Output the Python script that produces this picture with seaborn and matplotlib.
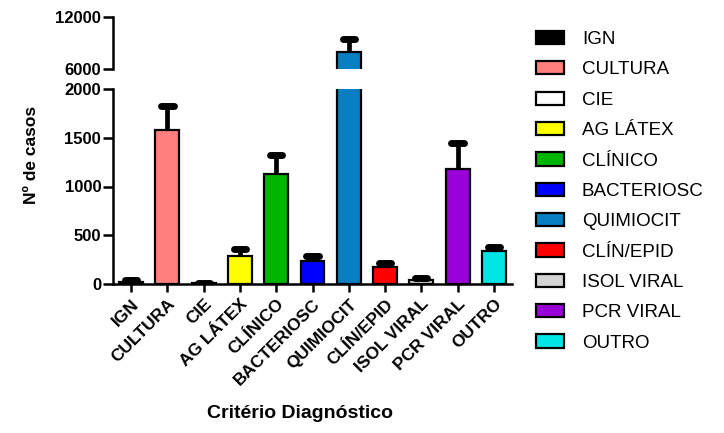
import matplotlib
matplotlib.use("Agg")
import matplotlib.pyplot as plt
from matplotlib.patches import Patch
import seaborn as sns
import pandas as pd

# Diagnostic criteria, mean case counts and upper error values
categories = ["IGN", "CULTURA", "CIE", "AG LÁTEX", "CLÍNICO", "BACTERIOSC",
              "QUIMIOCIT", "CLÍN/EPID", "ISOL VIRAL", "PCR VIRAL", "OUTRO"]
cases = [25, 1580, 8, 290, 1128, 240, 7930, 177, 42, 1176, 335]
errors = [12, 245, 4, 70, 192, 48, 1500, 42, 24, 267, 40]
colors = ["#000000", "#FF7F7F", "#FFFFFF", "#FFFF00", "#00B400", "#0000FF",
          "#0A7EC2", "#FF0000", "#D3D3D3", "#9A00D8", "#00E5E5"]

lower_ticks = [0, 500, 1000, 1500, 2000]
upper_ticks = [6000, 12000]

sns.set_theme(style="white")
plt.rcParams["font.family"] = ["Liberation Sans", "DejaVu Sans"]
for key in ("text.color", "axes.labelcolor", "xtick.color", "ytick.color"):
    plt.rcParams[key] = "black"

df = pd.DataFrame({"crit": categories, "n": cases})
palette = dict(zip(categories, colors))

W, H = 724, 433
fig = plt.figure(figsize=(W / 100, H / 100), dpi=100)

left, right = 113 / W, 512 / W
ax_lo = fig.add_axes([left, 1 - 284 / H, right - left, (284 - 89) / H])
ax_hi = fig.add_axes([left, 1 - 69 / H, right - left, (69 - 17) / H])

for ax in (ax_lo, ax_hi):
    sns.barplot(data=df, x="crit", y="n", hue="crit", palette=palette,
                order=categories, hue_order=categories, legend=False,
                edgecolor="black", linewidth=1.6, width=0.66, saturation=1,
                ax=ax)
    xs = range(len(categories))
    tops = [v + e for v, e in zip(cases, errors)]
    ax.vlines(xs, cases, tops, colors="black", linewidth=3.4, zorder=5)
    caps = ax.hlines(tops, [x - 0.17 for x in xs], [x + 0.17 for x in xs],
                     colors="black", linewidth=5, zorder=5)
    caps.set_capstyle("round")
    ax.set_xlim(-0.5, 10.5)
    ax.set_xlabel("")
    ax.set_ylabel("")
    for s in ("top", "right"):
        ax.spines[s].set_visible(False)
    ax.spines["left"].set_linewidth(1.8)
    ax.spines["left"].set_color("black")
    ax.tick_params(axis="y", which="both", left=True, length=7, width=1.8,
                   color="black", labelsize=12, pad=1.5)

ax_lo.set_ylim(0, 2000)
ax_lo.set_yticks(lower_ticks)
ax_lo.spines["bottom"].set_linewidth(1.8)
ax_lo.spines["bottom"].set_color("black")
ax_lo.set_xticks(range(len(categories)))
ax_lo.set_xticklabels(categories, rotation=45, ha="right",
                      rotation_mode="anchor", fontsize=12.5, fontweight="bold")
ax_lo.tick_params(axis="x", bottom=True, length=6, width=1.8, color="black", pad=3)

ax_hi.set_ylim(6000, 12000)
ax_hi.set_yticks(upper_ticks)
ax_hi.spines["bottom"].set_visible(False)
ax_hi.tick_params(axis="x", bottom=False, labelbottom=False)

for ax in (ax_lo, ax_hi):
    for lab in ax.get_yticklabels():
        lab.set_fontweight("bold")

fig.text(31 / W, 1 - 155 / H, "Nº de casos", rotation=90, ha="center",
         va="center", fontsize=12.5, fontweight="bold")
fig.text(300 / W, 1 - 413 / H, "Critério Diagnóstico", ha="center",
         va="center", fontsize=14, fontweight="bold")

handles = [Patch(facecolor=c, edgecolor="black", linewidth=1.6) for c in colors]
fig.legend(handles, categories, loc="upper left",
           bbox_to_anchor=(536 / W, 1 - 31 / H), frameon=False,
           fontsize=13.5, handlelength=1.5, handleheight=0.7,
           labelspacing=0.705, handletextpad=0.95, borderaxespad=0,
           borderpad=0)

fig.savefig("out.png", dpi=100)
